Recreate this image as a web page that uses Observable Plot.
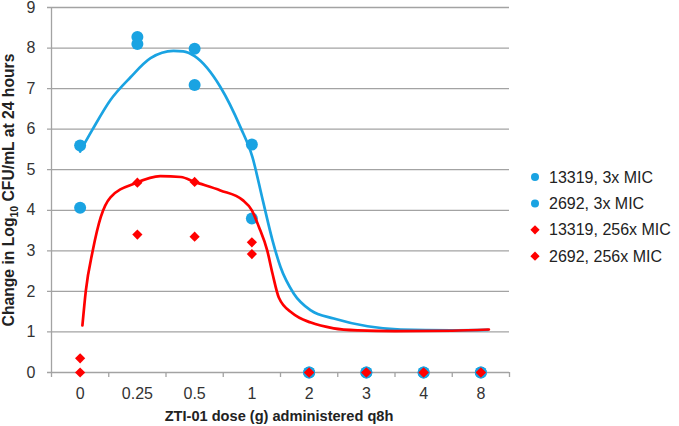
<!DOCTYPE html>
<html><head><meta charset="utf-8">
<script src="https://cdn.jsdelivr.net/npm/d3@7"></script>
<script src="https://cdn.jsdelivr.net/npm/@observablehq/plot@0.6"></script>
<style>body{margin:0;background:#fff} #chart{width:679px;height:426px}</style>
</head><body><div id="chart"></div>
<script>
// ---- data ----
const categories = ["0", "0.25", "0.5", "1", "2", "3", "4", "8"];
const yTicks = [0, 1, 2, 3, 4, 5, 6, 7, 8, 9];
const seriesNames = ["13319, 3x MIC", "2692, 3x MIC", "13319, 256x MIC", "2692, 256x MIC"];
const blue13319 = [5.6, 8.27, 7.98, 5.62, 0, 0, 0, 0];
const blue2692  = [4.06, 8.1, 7.09, 3.8, 0, 0, 0, 0];
const red13319  = [0.35, 4.68, 4.7, 3.21, 0, 0, 0, 0];
const red2692   = [0, 3.4, 3.35, 2.92, 0, 0, 0, 0];
// fitted curves, positions in category units (0 = "0", 7 = "8")
const blueFitX = [0, 0.2, 0.53, 0.88, 1.23, 1.63, 1.8, 2.0, 2.45, 2.8, 3.01, 3.19, 3.36, 3.5, 3.73, 4.03, 4.43, 5.02, 5.6, 6.47, 7.12];
const blueFitY = [5.45, 5.95, 6.72, 7.28, 7.75, 7.93, 7.92, 7.8, 7.04, 6.05, 5.31, 4.25, 3.26, 2.6, 1.95, 1.53, 1.33, 1.14, 1.06, 1.04, 1.05];
const redFitX = [0.04, 0.1, 0.22, 0.36, 0.53, 0.97, 1.4, 1.76, 2.0, 2.45, 2.84, 3.0, 3.12, 3.27, 3.36, 3.47, 3.71, 4.03, 4.43, 4.85, 5.5, 6.5, 7.14];
const redFitY = [1.16, 2.02, 3.0, 3.83, 4.32, 4.67, 4.84, 4.82, 4.7, 4.49, 4.25, 4.0, 3.6, 3.0, 2.44, 1.85, 1.46, 1.23, 1.09, 1.04, 1.02, 1.03, 1.06];

const BLUE = "#1aa3e2", RED = "#ff0000", GRID = "#a3a3a3";

const toPts = (vals) => vals.map((v, i) => ({x: i, y: v}));
const bluePts = [...toPts(blue13319), ...toPts(blue2692)];
const redPts = [...toPts(red13319), ...toPts(red2692)];
const blueFit = blueFitX.map((x, i) => ({x, y: blueFitY[i]}));
const redFit = redFitX.map((x, i) => ({x, y: redFitY[i]}));
const idx = categories.map((_, i) => i);
const bounds = d3.range(categories.length + 1).map(i => i - 0.5);

const svg = Plot.plot({
  width: 679, height: 426,
  marginLeft: 51, marginRight: 170, marginTop: 7, marginBottom: 54,
  style: {fontFamily: "'Liberation Sans', Arial, sans-serif", fontSize: "16px", color: "#333", background: "#fff"},
  x: {domain: [-0.5, 7.5], axis: null},
  y: {domain: [0, 9], axis: null},
  marks: [
    Plot.ruleY(yTicks, {stroke: GRID, strokeWidth: 1.3, insetLeft: -4}),
    Plot.ruleX([-0.5], {stroke: GRID, strokeWidth: 1.3}),
    Plot.axisX(bounds, {tickSize: 5, tickFormat: () => "", stroke: GRID, strokeWidth: 1.3, label: null}),
    Plot.axisX(idx, {tickSize: 0, tickPadding: 15, tickFormat: i => categories[i], fill: "#333", label: null, fontSize: 16}),
    Plot.axisY(yTicks, {tickSize: 0, tickPadding: 16, fill: "#333", label: null, fontSize: 16}),
    Plot.dot(bluePts, {x: "x", y: "y", r: 6, fill: BLUE}),
    Plot.dot(redPts, {x: "x", y: "y", r: 4.6, symbol: "diamond2", fill: RED}),
    Plot.line(blueFit, {x: "x", y: "y", stroke: BLUE, strokeWidth: 2.7, curve: "monotone-x"}),
    Plot.line(redFit, {x: "x", y: "y", stroke: RED, strokeWidth: 2.7, curve: "monotone-x"})
  ]
});
document.getElementById("chart").appendChild(svg);

const s = d3.select(svg);
// axis titles
s.append("text")
  .attr("x", 279).attr("y", 421).attr("text-anchor", "middle")
  .attr("font-weight", "bold").attr("font-size", 14.6).attr("fill", "#222")
  .text("ZTI-01 dose (g) administered q8h");
const yt = s.append("text")
  .attr("transform", "translate(14,190) rotate(-90)").attr("text-anchor", "middle")
  .attr("font-weight", "bold").attr("font-size", 15.7).attr("fill", "#222");
yt.append("tspan").text("Change in Log");
yt.append("tspan").attr("font-size", 10.5).attr("dy", 4).text("10");
yt.append("tspan").attr("dy", -4).text(" CFU/mL at 24 hours");

// legend
const lg = s.append("g").attr("text-anchor", "start");
seriesNames.forEach((name, i) => {
  const cy = 177 + i * 26.4;
  if (i < 2) lg.append("circle").attr("cx", 535).attr("cy", cy).attr("r", 4).attr("fill", BLUE);
  else lg.append("path").attr("d", d3.symbol(d3.symbolDiamond2, 55)()).attr("transform", `translate(535,${cy})`).attr("fill", RED);
  lg.append("text").attr("x", 549).attr("y", cy).attr("dy", "0.35em").attr("font-size", 16).attr("fill", "#222").text(name);
});
</script>
</body></html>
